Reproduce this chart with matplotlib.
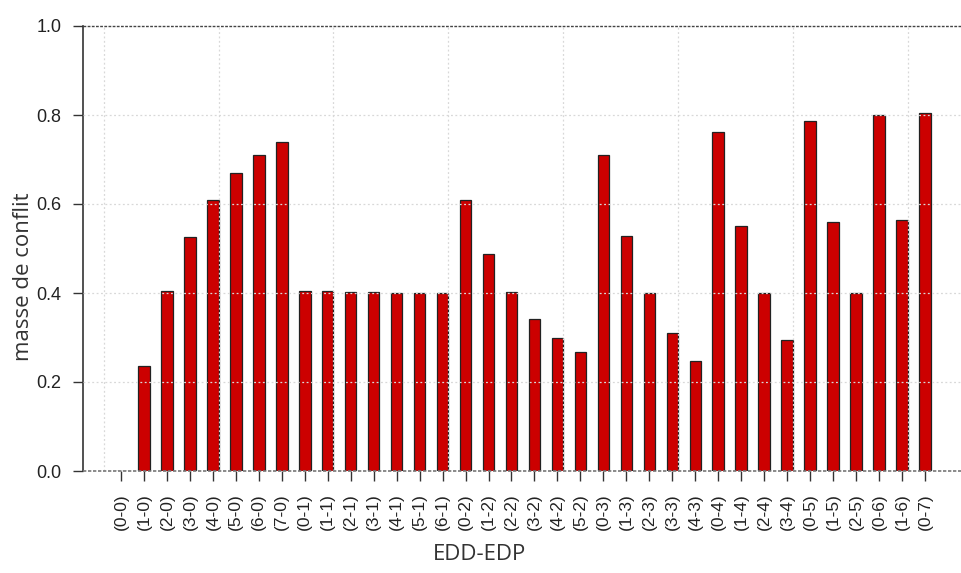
import numpy as np
import matplotlib.pyplot as plt

# EDD-EDP pairs and conflict mass
labels = ['(0-0)', '(1-0)', '(2-0)', '(3-0)', '(4-0)', '(5-0)', '(6-0)', '(7-0)',
          '(0-1)', '(1-1)', '(2-1)', '(3-1)', '(4-1)', '(5-1)', '(6-1)',
          '(0-2)', '(1-2)', '(2-2)', '(3-2)', '(4-2)', '(5-2)',
          '(0-3)', '(1-3)', '(2-3)', '(3-3)', '(4-3)',
          '(0-4)', '(1-4)', '(2-4)', '(3-4)',
          '(0-5)', '(1-5)', '(2-5)',
          '(0-6)', '(1-6)',
          '(0-7)']
conflit = [0.0, 0.237, 0.405, 0.526, 0.610, 0.669, 0.711, 0.740,
           0.405, 0.404, 0.403, 0.402, 0.401, 0.401, 0.401,
           0.610, 0.487, 0.402, 0.341, 0.298, 0.268,
           0.711, 0.529, 0.401, 0.311, 0.247,
           0.761, 0.550, 0.401, 0.295,
           0.786, 0.560, 0.401,
           0.799, 0.565,
           0.804]
yticks = [0.0, 0.2, 0.4, 0.6, 0.8, 1.0]

# barplot-like positions (width 1, space 1)
x = 1.5 + 2 * np.arange(len(labels))

fig = plt.figure(figsize=(9.61, 5.73), dpi=100)
ax = fig.add_axes([83/961, 102/573, 878/961, 445/573])

ax.bar(x, conflit, width=1.0, color='#cc0000', edgecolor='#222222', linewidth=0.9, zorder=2)

ax.set_xlim(-1.81, 74.64)
ax.set_ylim(0, 1.0)

# grid drawn over the bars, like R's grid()
for gx in [0, 10, 20, 30, 40, 50, 60, 70]:
    ax.axvline(gx, color='#d8d8d8', linestyle=(0, (1.5, 2)), linewidth=0.9, zorder=3)
for gy in [0.2, 0.4, 0.6, 0.8]:
    ax.axhline(gy, color='#d8d8d8', linestyle=(0, (1.5, 2)), linewidth=0.9, zorder=3)
ax.axhline(1.0, color='#444444', linestyle=(0, (2, 1)), linewidth=1.0, zorder=4, clip_on=False)
ax.axhline(0.0, color='#777777', linestyle=(0, (2, 1)), linewidth=1.2, zorder=4, clip_on=False)

for s in ['top', 'right', 'bottom']:
    ax.spines[s].set_visible(False)
ax.spines['left'].set_color('#333333')
ax.spines['left'].set_linewidth(1.2)

ax.set_yticks(yticks)
ax.set_yticklabels(['%.1f' % v for v in yticks], family='Liberation Sans', fontsize=13, color='#222222')
ax.set_xticks(x)
ax.set_xticklabels(labels, rotation=90, family='Liberation Sans', fontsize=12.5, color='#222222')
ax.tick_params(axis='y', direction='out', length=7.5, width=1.0, color='#333333', pad=8)
ax.tick_params(axis='x', direction='out', length=7.5, width=1.0, color='#333333', pad=8.5)

ax.set_ylabel('masse de conflit', family='Open Sans', fontsize=16, color='#333333', labelpad=2, y=0.436)
ax.set_xlabel('EDD-EDP', family='Open Sans', fontsize=16, color='#333333', labelpad=10, x=0.452)

fig.savefig('out.png', dpi=100)
